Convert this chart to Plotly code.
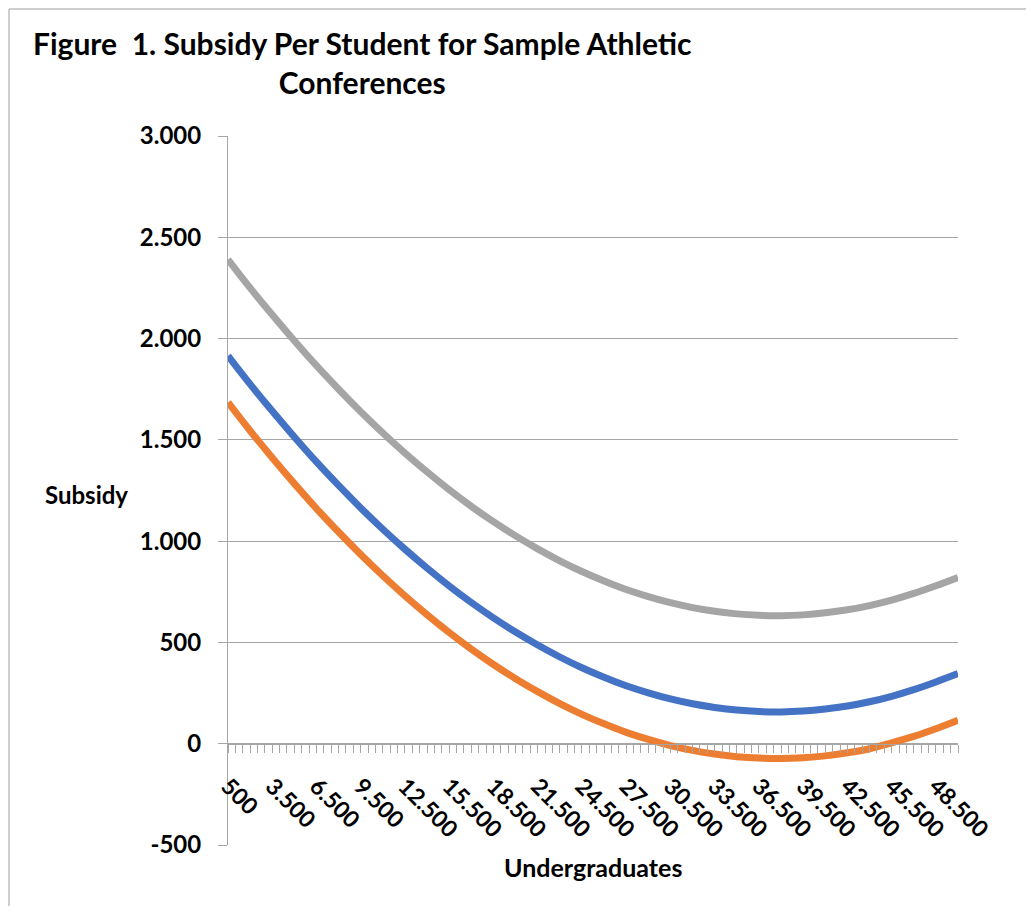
import plotly.graph_objects as go

# Undergraduates (every 1500 students)
undergrads = [500, 2000, 3500, 5000, 6500, 8000, 9500, 11000, 12500, 14000,
              15500, 17000, 18500, 20000, 21500, 23000, 24500, 26000, 27500, 29000,
              30500, 32000, 33500, 35000, 36500, 38000, 39500, 41000, 42500, 44000,
              45500, 47000, 48500, 50000]

blue_subsidy = [1915, 1775, 1642, 1514, 1391, 1275, 1164, 1059, 960, 867,
                779, 697, 621, 551, 487, 428, 375, 328, 286, 251,
                221, 197, 179, 166, 159, 157, 161, 171, 186, 207,
                234, 267, 305, 346]

orange_subsidy = [1685, 1545, 1412, 1284, 1161, 1045, 934, 829, 730, 637,
                  549, 467, 391, 321, 257, 198, 145, 98, 56, 21,
                  -9, -33, -51, -64, -71, -73, -69, -60, -45, -25,
                  4, 36, 74, 116]

gray_subsidy = [2390, 2250, 2117, 1989, 1866, 1750, 1639, 1534, 1435, 1342,
                1254, 1172, 1096, 1026, 962, 903, 850, 803, 761, 726,
                696, 672, 654, 641, 634, 632, 636, 646, 661, 682,
                709, 742, 780, 821]

x_tick_vals = [500, 3500, 6500, 9500, 12500, 15500, 18500, 21500, 24500,
               27500, 30500, 33500, 36500, 39500, 42500, 45500, 48500]
x_tick_text = ["500", "3.500", "6.500", "9.500", "12.500", "15.500", "18.500",
               "21.500", "24.500", "27.500", "30.500", "33.500", "36.500",
               "39.500", "42.500", "45.500", "48.500"]
y_tick_vals = [-500, 0, 500, 1000, 1500, 2000, 2500, 3000]
y_tick_text = ["-500", "0", "500", "1.000", "1.500", "2.000", "2.500", "3.000"]

FONT = "Lato"
GRAY = "#a6a6a6"

fig = go.Figure()
for vals, col in [(blue_subsidy, "#4472C4"), (orange_subsidy, "#ED7D31"),
                  (gray_subsidy, "#A5A5A5")]:
    fig.add_trace(go.Scatter(x=undergrads, y=vals, mode="lines",
                             line=dict(color=col, width=7, shape="spline"),
                             showlegend=False, hoverinfo="skip"))

# page body has an 8px margin; figure coords = screenshot coords - 8
OFF = 8
W, H = 1034 - 2 * OFF, 914 - 2 * OFF
L, T = 228 - OFF, 136 - OFF
R = W - (958 - OFF)
B = H - (845 - OFF)
pw, ph = W - L - R, H - T - B


def px(xs):
    return (xs - OFF - L) / pw


def py(ys):
    return (H - B - (ys - OFF)) / ph


fig.update_layout(
    width=W, height=H,
    margin=dict(l=L, r=R, t=T, b=B),
    paper_bgcolor="white", plot_bgcolor="white",
    font=dict(family=FONT, color="black"),
    xaxis=dict(range=[500, 50000], tickmode="array", tickvals=x_tick_vals,
               ticktext=x_tick_text, tickangle=45, anchor="free",
               position=500 / 3500, showline=True, linecolor=GRAY, linewidth=1,
               showgrid=False, zeroline=False, ticks="outside", ticklen=8,
               tickcolor=GRAY, tickwidth=1, ticklabelstandoff=11,
               tickfont=dict(family=FONT, size=23, color="black", weight="bold"),
               minor=dict(tick0=500, dtick=500, ticks="outside", ticklen=8,
                          tickcolor=GRAY, tickwidth=1, showgrid=False)),
    yaxis=dict(range=[-500, 3000], tickmode="array", tickvals=y_tick_vals,
               ticktext=y_tick_text, showline=True, linecolor=GRAY, linewidth=1,
               showgrid=True, gridcolor=GRAY, gridwidth=1, zeroline=False,
               ticks="outside", ticklen=9, tickcolor=GRAY, tickwidth=1,
               ticklabelstandoff=12,
               tickfont=dict(family=FONT, size=24, color="black", weight="bold")),
)

fig.add_annotation(text="Figure  1. Subsidy Per Student for Sample Athletic<br>Conferences",
                   xref="paper", yref="paper", x=px(362), y=py(45),
                   xanchor="center", yanchor="middle", yshift=-18, showarrow=False,
                   align="center",
                   font=dict(family=FONT, size=30, color="black", weight="bold"))
fig.add_annotation(text="Subsidy", xref="paper", yref="paper",
                   x=px(86), y=py(494),
                   xanchor="center", yanchor="middle", showarrow=False,
                   font=dict(family=FONT, size=24, color="black", weight="bold"))
fig.add_annotation(text="Undergraduates", xref="paper", yref="paper",
                   x=px(593), y=py(867),
                   xanchor="center", yanchor="middle", showarrow=False,
                   font=dict(family=FONT, size=25, color="black", weight="bold"))

# outer chart-area frame (top and left edges visible)
fig.add_shape(type="line", xref="paper", yref="paper",
              x0=px(OFF + 1), x1=px(1034 - OFF), y0=py(OFF + 1), y1=py(OFF + 1),
              line=dict(color="#bfbfbf", width=1.5), layer="below")
fig.add_shape(type="line", xref="paper", yref="paper",
              x0=px(OFF + 1), x1=px(OFF + 1), y0=py(OFF + 1), y1=py(914 - OFF),
              line=dict(color="#bfbfbf", width=1.5), layer="below")

fig.write_html("out.html")
